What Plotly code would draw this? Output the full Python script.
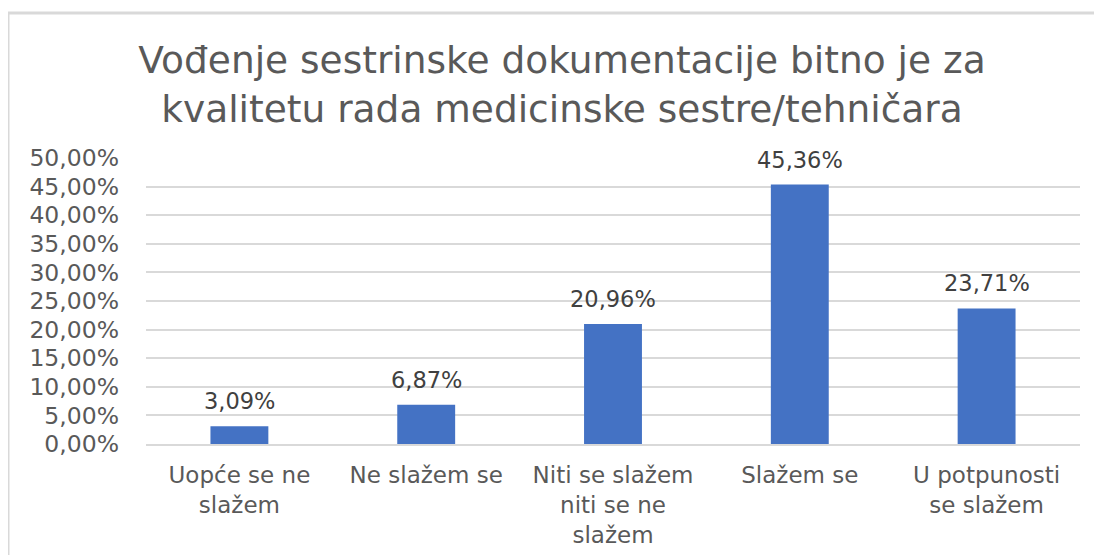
import plotly.graph_objects as go

# Chart data
categories = ["Uopće se ne<br>slažem", "Ne slažem se", "Niti se slažem<br>niti se ne<br>slažem",
              "Slažem se", "U potpunosti<br>se slažem"]
shares = [0.0309, 0.0687, 0.2096, 0.4536, 0.2371]
labels = [f"{v * 100:.2f}%".replace(".", ",") for v in shares]
title_text = "Vođenje sestrinske dokumentacije bitno je za<br>kvalitetu rada medicinske sestre/tehničara"

FONT = "DejaVu Sans, Open Sans, sans-serif"
W, H = 1094, 547
ml, mr, mt, mb = 138, 22, 150, 111
pw, ph = W - ml - mr, H - mt - mb

fig = go.Figure()

fig.add_trace(go.Bar(
    x=categories,
    y=shares,
    marker=dict(color="#4472C4", line=dict(width=0)),
    width=0.31,
    hoverinfo="skip",
))

# value labels above bars
for c, v, t in zip(categories, shares, labels):
    fig.add_annotation(x=c, y=v, text=t, showarrow=False, yanchor="bottom", yshift=10,
                       font=dict(size=22.5, color="#404040", family=FONT))

# Outer chart frame (runs off the right and bottom edge)
fig.add_shape(type="rect", xref="paper", yref="paper",
              x0=(0 - ml) / pw, x1=(1130 - ml) / pw,
              y0=(H - mb - 580) / ph, y1=(H - mb - 5) / ph,
              line=dict(color="#d9d9d9", width=3), layer="below")

fig.update_layout(
    width=W, height=H,
    margin=dict(l=ml, r=mr, t=mt, b=mb, autoexpand=False),
    paper_bgcolor="white", plot_bgcolor="white",
    separators=",.",
    showlegend=False,
    title=dict(text=title_text, x=0.5 + 7 / W, xref="container", xanchor="center",
               y=1 - 65 / H, yanchor="middle", automargin=False,
               font=dict(size=37.5, color="#595959", family=FONT)),
    xaxis=dict(
        showgrid=False, showline=True, linecolor="#d9d9d9", linewidth=1.5,
        ticks="", ticklabelstandoff=10, automargin=False,
        tickfont=dict(size=23, color="#595959", family=FONT),
    ),
    yaxis=dict(
        range=[0, 0.5], dtick=0.05, tickformat=".2%",
        showgrid=True, gridcolor="#d9d9d9", gridwidth=1.5,
        zeroline=False, showline=False, ticks="", automargin=False,
        tickfont=dict(size=23.5, color="#595959", family=FONT),
        ticklabelstandoff=26,
    ),
)

fig.write_html("out.html")
